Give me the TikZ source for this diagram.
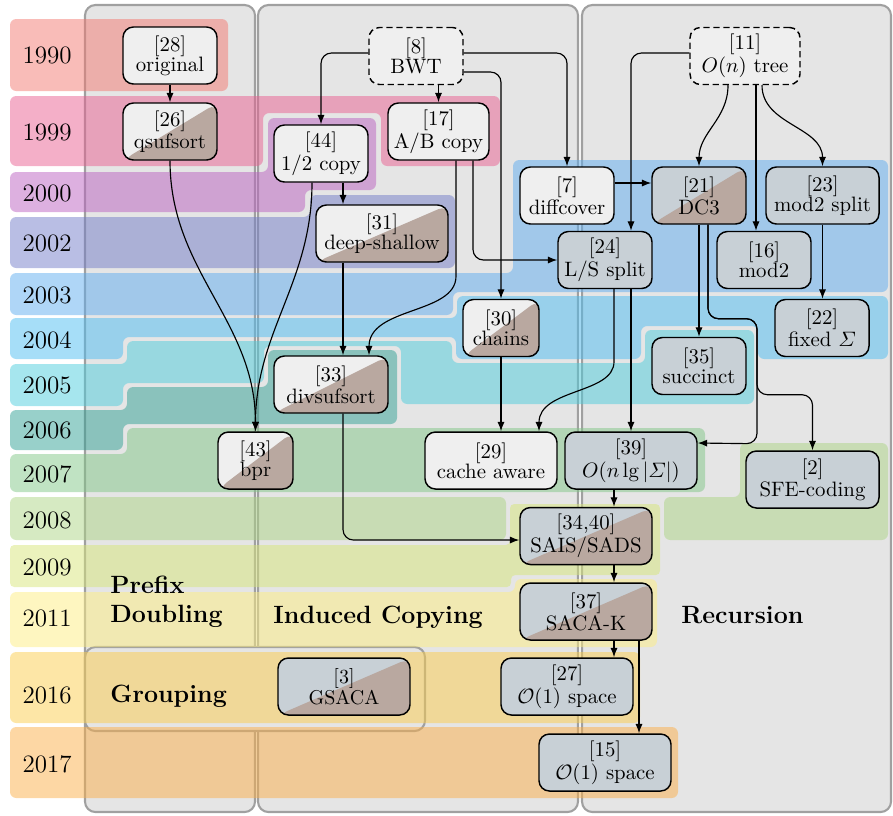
\documentclass[tikz,border=0pt]{standalone}
\usepackage{amsmath}
\usetikzlibrary{arrows.meta}

\begin{document}
\begin{tikzpicture}[x=0.48pt,y=-0.48pt]

	% --- parámetros ---
	\newcommand{\px}{0.48pt}
	\useasboundingbox (0,0) rectangle (893,815);

	% --- colores ---
	\definecolor{colbg}{HTML}{E5E5E5}
	\definecolor{colline}{HTML}{A0A0A0}
	\definecolor{nodelight}{HTML}{EFEFEF}
	\definecolor{nodelin}{HTML}{C8D0D6}
	\definecolor{nodeimpl}{HTML}{B9A8A0}
	\definecolor{c1990}{HTML}{F37971}
	\definecolor{c1999}{HTML}{E95F91}
	\definecolor{c2000}{HTML}{BB61C1}
	\definecolor{c2002}{HTML}{737DC9}
	\definecolor{c2003}{HTML}{5FADEF}
	\definecolor{c2004}{HTML}{4DBDF1}
	\definecolor{c2005}{HTML}{4DCDDD}
	\definecolor{c2006}{HTML}{31A195}
	\definecolor{c2007}{HTML}{81C787}
	\definecolor{c2008}{HTML}{ADD585}
	\definecolor{c2009}{HTML}{D7E579}
	\definecolor{c2011}{HTML}{FDED81}
	\definecolor{c2016}{HTML}{FBCD4D}
	\definecolor{c2017}{HTML}{FBAF49}

	% estilos
	\tikzset{
		column/.style = {fill=colbg, draw=colline, line width=1pt, rounded corners=5pt},
		band/.style   = {fill=#1, fill opacity=0.5, rounded corners=3pt},
		year/.style   = {font=\large, inner sep=0pt},
		head/.style   = {font=\large\bfseries, inner sep=0pt, anchor=west, align=left},
		algo/.style   = {draw, line width=0.7pt, rounded corners=5pt, align=center,
			minimum height=57*\px, inner sep=1pt, font=\fontsize{10}{9.5}\selectfont},
		light/.style  = {algo, fill=nodelight, minimum width=#1*\px},
		lin/.style    = {algo, fill=nodelin, minimum width=#1*\px},
		impl/.style   = {path picture={\fill[nodeimpl] (path picture bounding box.south west)
				-- (path picture bounding box.north east) -- (path picture bounding box.south east) -- cycle;}},
		theory/.style = {light=#1, dash pattern=on 3pt off 1.8pt},
		link/.style   = {-{Latex[length=4.5pt,width=3.4pt]}, line width=0.55pt, rounded corners=5pt},
	}

	% --- columnas ---
	\path[column] (85,5) rectangle (255,812);
	\path[column] (258,5) rectangle (578,812);
	\path[column] (582,5) rectangle (891,812);
	\path[column] (85,647) rectangle (425,731);

	% --- bandas de años ---
	\path[band=c1990] (10,19) rectangle (228,91);
	\path[band=c1999] (10,96) -- (500,96) -- (500,166) -- (381,166) -- (381,113)
		-- (263,113) -- (263,166) -- (10,166) -- cycle;
	\path[band=c2000] (10,172) -- (268,172) -- (268,118) -- (376,118) -- (376,190)
		-- (305,190) -- (305,212) -- (10,212) -- cycle;
	\path[band=c2002] (10,217) -- (310,217) -- (310,195) -- (455,195) -- (455,268)
		-- (10,268) -- cycle;
	\path[band=c2003] (10,273) -- (513,273) -- (513,160) -- (888,160) -- (888,292)
		-- (453,292) -- (453,315) -- (10,315) -- cycle;
	\path[band=c2004] (10,318) -- (457,318) -- (457,296) -- (888,296) -- (888,359)
		-- (758,359) -- (758,326) -- (641,326) -- (641,359) -- (456,359) -- (456,337)
		-- (123,337) -- (123,359) -- (10,359) -- cycle;
	\path[band=c2005] (10,364) -- (127,364) -- (127,341) -- (452,341) -- (452,363)
		-- (645,363) -- (645,330) -- (754,330) -- (754,404) -- (401,404) -- (401,346)
		-- (264,346) -- (264,383) -- (123,383) -- (123,406) -- (10,406) -- cycle;
	\path[band=c2006] (10,410) -- (127,410) -- (127,387) -- (268,387) -- (268,350)
		-- (397,350) -- (397,424) -- (123,424) -- (123,450) -- (10,450) -- cycle;
	\path[band=c2007] (10,454) -- (127,454) -- (127,428) -- (705,428) -- (705,492)
		-- (10,492) -- cycle;
	\path[band=c2008] (10,497) rectangle (506,540);
	\path[band=c2008] (664,497) -- (740,497) -- (740,443) -- (888,443) -- (888,540)
		-- (664,540) -- cycle;
	\path[band=c2009, rounded corners=2pt] (10,545) -- (510,545) -- (510,504) -- (660,504)
		-- (660,575) -- (511,575) -- (511,587) -- (10,587) -- cycle;
	\path[band=c2011] (10,592) -- (515,592) -- (515,579) -- (657,579) -- (657,647)
		-- (10,647) -- cycle;
	\path[band=c2016] (10,652) rectangle (640,723);
	\path[band=c2017] (10,727) rectangle (678,798);

	% etiquetas de años
	\node[year] (y1990) at (47,55) {1990};
	\node[year] (y1999) at (47,132) {1999};
	\node[year] (y2000) at (47,193) {2000};
	\node[year] (y2002) at (47,243) {2002};
	\node[year] (y2003) at (47,295) {2003};
	\node[year] (y2004) at (47,340) {2004};
	\node[year] (y2005) at (47,385) {2005};
	\node[year] (y2006) at (47,430) {2006};
	\node[year] (y2007) at (47,474) {2007};
	\node[year] (y2008) at (47,520) {2008};
	\node[year] (y2009) at (47,567) {2009};
	\node[year] (y2011) at (47,618) {2011};
	\node[year] (y2016) at (47,695) {2016};
	\node[year] (y2017) at (47,764) {2017};

	% títulos de columnas
	\node[head] (tPD) at (110,602) {Prefix\\Doubling};
	\node[head] (tIC) at (273,617) {Induced Copying};
	\node[head] (tRec) at (681,615.5) {Recursion};
	\node[head] (tGr) at (110,696.5) {Grouping};

	% --- nodos ---
	\node[light=94] (n28) at (170,55.5) {[28]\\original};
	\node[light=94, impl] (n26) at (170,131.5) {[26]\\qsufsort};
	\node[theory=94] (n8) at (416,56) {[8]\\BWT};
	\node[light=94] (n44) at (321,153.5) {[44]\\1/2 copy};
	\node[light=101] (n17) at (438.5,131.5) {[17]\\A/B copy};
	\node[light=132, impl] (n31) at (382,233.5) {[31]\\deep-shallow};
	\node[theory=110] (n11) at (745,56) {[11]\\$O(n)$ tree};
	\node[light=94] (n7) at (567,195.5) {[7]\\diffcover};
	\node[lin=94, impl] (n21) at (699,195.5) {[21]\\DC3};
	\node[lin=113] (n23) at (822.5,195.5) {[23]\\mod2 split};
	\node[lin=94] (n24) at (605,260) {[24]\\L/S split};
	\node[lin=94] (n16) at (764,260) {[16]\\mod2};
	\node[light=76, impl] (n30) at (501,328) {[30]\\chains};
	\node[lin=94] (n22) at (822,328) {[22]\\fixed $\varSigma$};
	\node[lin=94] (n35) at (699,366) {[35]\\succinct};
	\node[light=114, impl] (n33) at (331,384.5) {[33]\\divsufsort};
	\node[light=75, impl] (n43) at (255.5,460.5) {[43]\\bpr};
	\node[light=132] (n29) at (491,460.5) {[29]\\cache aware};
	\node[lin=132] (n39) at (631,460.5) {[39]\\$O(n\lg|\varSigma|)$};
	\node[lin=133] (n2) at (812.5,479.5) {[2]\\SFE-coding};
	\node[lin=132, impl] (n3440) at (586,536) {[34,40]\\SAIS/SADS};
	\node[lin=132, impl] (n37) at (586,611.5) {[37]\\SACA-K};
	\node[lin=132] (n27) at (567,686.5) {[27]\\$\mathcal{O}(1)$ space};
	\node[lin=132] (n15) at (605,762.5) {[15]\\$\mathcal{O}(1)$ space};
	\node[lin=132, impl, font=\fontsize{9.6}{8.6}\selectfont] (n3) at (344,686.5) {[3]\\GSACA};

	% --- conexiones ---
	\draw[link] (n28) -- (n26);
	\draw[link] (n26.south) to[out=-90,in=90] (n43.north);
	\draw[link] (n44.south -| 312,0) to[out=-90,in=90] (n43.north);
	\draw[link] (n44.south -| 343,0) -- (n31.north -| 343,0);
	\draw[link] (n8.west |- 0,53) -| (n44.north);
	\draw[link] (n8.south -| n17.north) -- (n17.north);
	\draw[link] (n8.east |- 0,53) -| (n7.north);
	\draw[link] (n8.east |- 0,72) -| (n30.north);
	\draw[link] (n17.south -| 456,0) -- ++(0,105) to[out=-90,in=90] (n33.north -| 369,0);
	\draw[link] (n17.south -| 473,0) |- (n24.west);
	\draw[link] (n31.south -| 343,0) -- (n33.north -| 343,0);
	\draw[link] (n33.south -| 343,0) |- (n3440.west |- 0,540);
	\draw[link] (n7.east |- 0,183) -- (n21.west |- 0,183);
	\draw[link] (n11.west |- 0,53) -| (n24.north -| 631,0);
	\draw[link] (n11.south -| 728,0) to[out=-90,in=90] (n21.north);
	\draw[link] (n11.south -| 756,0) -- (n16.north -| 756,0);
	\draw[link] (n11.south -| 762,0) to[out=-90,in=90] (n23.north);
	\draw[link] (n21) -- (n35);
	\draw[link] (n21.south -| 708,0) -- ++(0,94) -- ++(49,0) -- ++(0,125) -- (n39.east |- 0,443);
	\draw[link] (n21.south -| 708,0) -- ++(0,94) -- ++(49,0) -- ++(0,76) -- ++(55.5,0) -- (n2.north);
	\draw[link] (n23.south) -- (n22.north -| n23.south);
	\draw[link] (n24.south -| 614,0) -- ++(0,62) to[out=-90,in=90] (n29.north -| 539,0);
	\draw[link] (n24.south -| 631,0) -- (n39.north);
	\draw[link] (n30.south) -- (n29.north -| n30.south);
	\draw[link] (n39.south -| 614,0) -- (n3440.north -| 614,0);
	\draw[link] (n3440.south -| 614,0) -- (n37.north -| 614,0);
	\draw[link] (n37.south -| 614,0) -- (n27.north -| 614,0);
	\draw[link] (n37.south -| 639,0) -- (n15.north -| 639,0);

\end{tikzpicture}
\end{document}
